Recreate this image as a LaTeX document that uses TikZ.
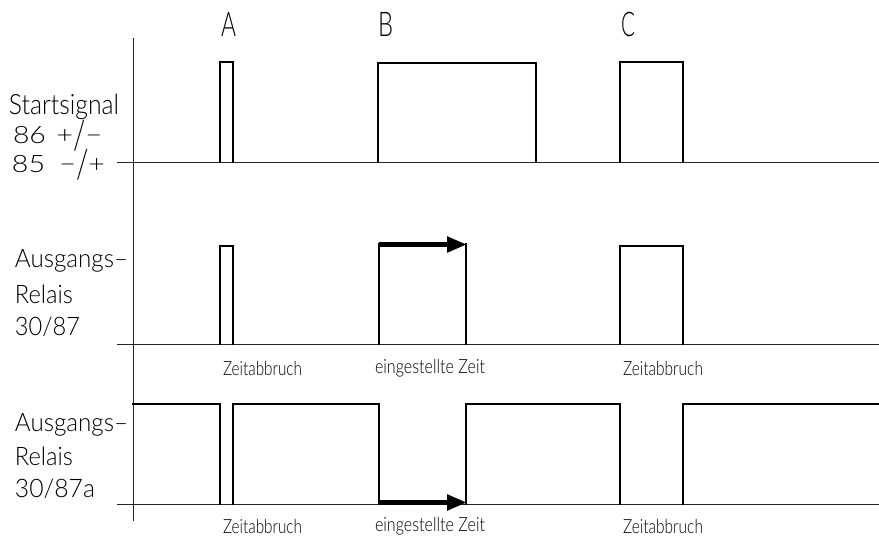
\documentclass[tikz,border=0pt]{standalone}
\usepackage{fontspec}
\setmainfont{Lato Light}
\usetikzlibrary{arrows.meta}
\newcommand\fw[2]{\resizebox{#1pt}{\height}{#2}}
\newcommand\tallslash{\raisebox{-8pt}{\resizebox*{\width}{31pt}{\raisebox{\depth}{/}}}}
\tikzset{
  axisline/.style={line width=1pt, black!85},
  sig/.style={line width=1.4pt, line join=miter, line cap=rect},
  timearrow/.style={line width=5pt, -{Triangle[length=20pt,width=15pt]}},
  lbl/.style={anchor=base west, inner sep=0pt, outer sep=0pt},
  big/.style={lbl, font=\fontsize{28}{30}\selectfont},
  mid/.style={lbl, font=\fontsize{24}{26}\selectfont},
  rel/.style={lbl, font=\fontsize{25.5}{27}\selectfont},
  small/.style={lbl, font=\fontsize{19.5}{21}\selectfont},
  head/.style={lbl, font=\fontsize{34}{36}\selectfont},
}
\begin{document}
\begin{tikzpicture}[x=1pt,y=-1pt]
\useasboundingbox (0,0) rectangle (879,538);
% axes
\coordinate (ytop) at (133,38);
\coordinate (ybot) at (133,521);
\draw[axisline] (ytop) -- (ybot);
\coordinate (b1l) at (117,162); \coordinate (b1r) at (879,162);
\coordinate (b2l) at (117,344); \coordinate (b2r) at (879,344);
\coordinate (b3l) at (117,504); \coordinate (b3r) at (879,504);
\draw[axisline] (b1l) -- (b1r);
\draw[axisline] (b2l) -- (b2r);
\draw[axisline] (b3l) -- (b3r);
% column headings
\node[head] (hA) at (221,36) {\fw{15}{A}};
\node[head] (hB) at (378,36) {\fw{15}{B}};
\node[head] (hC) at (621,36) {\fw{14}{C}};
% row labels
\node[big] (s1) at (9,114) {\fw{110}{Startsignal}};
\node[mid] (s2) at (13,143) {\fw{89}{86\hspace{9pt}+\tallslash−}};
\node[mid] (s3) at (12,172) {\fw{93}{85\hspace{12pt}−\tallslash+}};
\node[rel] (r1) at (15,267) {\fw{113}{Ausgangs–}};
\node[rel] (r2) at (15,303) {\fw{58}{Relais}};
\node[rel] (r3) at (15,335) {\fw{65}{30/87}};
\node[rel] (q1) at (15,431) {\fw{113}{Ausgangs–}};
\node[rel] (q2) at (15,465) {\fw{58}{Relais}};
\node[rel] (q3) at (15,497) {\fw{80}{30/87a}};
% start signal
\draw[sig] (220,162) -- (220,62) -- (233,62) -- (233,162);
\draw[sig] (378,162) -- (378,63) -- (536,63) -- (536,162);
\draw[sig] (620,162) -- (620,62) -- (683,62) -- (683,162);
% relay 30/87
\draw[sig] (220,344) -- (220,246) -- (233,246) -- (233,344);
\draw[sig] (379,344) -- (379,244);
\draw[sig] (466,344) -- (466,244);
\coordinate (a1s) at (379,244.5); \coordinate (a1e) at (467,244.5);
\draw[timearrow] (a1s) -- (a1e);
\draw[sig] (620,344) -- (620,246) -- (683,246) -- (683,344);
% relay 30/87a
\draw[sig] (133,404) -- (220,404) -- (220,504);
\draw[sig] (233,504) -- (233,404) -- (379,404) -- (379,504);
\draw[sig] (466,504) -- (466,404) -- (620,404) -- (620,504);
\draw[sig] (683,504) -- (683,404) -- (879,404);
\coordinate (a2s) at (379,502.5); \coordinate (a2e) at (467,502.5);
\draw[timearrow] (a2s) -- (a2e);
% annotations
\node[small] (z1) at (223,375) {\fw{79}{Zeitabbruch}};
\node[small] (e1) at (375,373) {\fw{110}{eingestellte Zeit}};
\node[small] (z2) at (623,375) {\fw{80}{Zeitabbruch}};
\node[small] (z3) at (223,533) {\fw{79}{Zeitabbruch}};
\node[small] (e2) at (375,531) {\fw{110}{eingestellte Zeit}};
\node[small] (z4) at (623,533) {\fw{80}{Zeitabbruch}};
\end{tikzpicture}
\end{document}
